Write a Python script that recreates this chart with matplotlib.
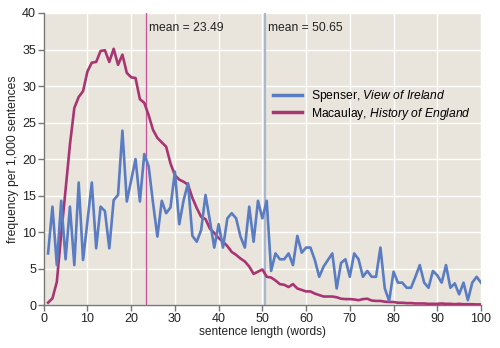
import numpy as np
import matplotlib
matplotlib.use('Agg')
import matplotlib.pyplot as plt

# sentence length (words)
lengths = list(range(1, 101))

# Spenser, View of Ireland (frequency per 1,000 sentences)
spenser = [7.1, 13.5, 5.5, 14.3, 6.3, 13.5, 5.5, 16.8, 6.2, 11.5,
           16.8, 7.8, 13.5, 12.9, 7.8, 14.4, 15.1, 23.9, 14.2, 17.1,
           20.0, 14.2, 20.7, 19.0, 14.0, 9.4, 14.3, 12.6, 13.4, 18.3,
           11.1, 14.4, 16.7, 9.5, 8.7, 10.3, 15.1, 11.6, 7.9, 11.1,
           7.9, 11.9, 12.6, 11.9, 9.4, 7.9, 13.5, 8.7, 14.3, 11.9,
           14.3, 4.7, 7.1, 6.3, 6.3, 7.1, 5.5, 9.5, 7.2, 7.9,
           7.9, 6.2, 3.9, 5.3, 6.2, 7.1, 2.3, 5.8, 6.3, 3.9,
           7.1, 6.3, 3.9, 4.7, 3.9, 3.9, 7.9, 2.3, 0.6, 4.6,
           3.1, 3.1, 2.4, 2.4, 3.9, 5.5, 3.1, 2.4, 4.7, 4.1,
           3.1, 5.5, 2.4, 3.0, 1.5, 3.1, 0.7, 3.1, 3.9, 3.1]

# Macaulay, History of England
macaulay = [0.36, 0.95, 3.2, 9.7, 15.8, 22.0, 27.0, 28.5, 29.3, 32.0,
            33.2, 33.3, 34.8, 34.9, 33.3, 35.1, 32.9, 34.3, 31.8, 31.2,
            31.1, 28.2, 27.7, 26.0, 24.0, 22.9, 22.3, 21.7, 19.4, 17.8,
            17.2, 16.9, 16.5, 14.7, 13.3, 12.1, 11.8, 10.5, 9.9, 9.2,
            8.7, 8.1, 7.3, 6.9, 6.4, 6.0, 5.3, 4.3, 4.6, 4.9,
            3.9, 3.8, 3.4, 2.9, 2.8, 2.5, 2.9, 2.3, 2.1, 1.9,
            1.9, 1.6, 1.4, 1.2, 1.2, 1.2, 1.1, 0.9, 0.85, 0.85,
            0.8, 0.7, 0.85, 0.9, 0.65, 0.6, 0.6, 0.5, 0.45, 0.45,
            0.35, 0.35, 0.3, 0.3, 0.25, 0.25, 0.25, 0.2, 0.2, 0.2,
            0.25, 0.2, 0.2, 0.15, 0.2, 0.15, 0.15, 0.15, 0.12, 0.12]

mean_macaulay = 23.49
mean_spenser = 50.65

blue = '#5a7cc2'
magenta = '#a83572'

plt.rcParams['font.family'] = ['Liberation Sans', 'DejaVu Sans']
plt.rcParams['mathtext.fontset'] = 'custom'
plt.rcParams['mathtext.rm'] = 'Liberation Sans'
plt.rcParams['mathtext.it'] = 'Liberation Sans:italic'

fig = plt.figure(figsize=(5, 3.48), dpi=100)
ax = fig.add_axes([0.0874, 0.1227, 0.8746, 0.84])
ax.set_facecolor('#e9e5dc')

# mean lines
ax.axvline(mean_macaulay, color='#c8559a', lw=0.9, zorder=2)
ax.axvline(mean_spenser, color='#a9b6cc', lw=1.6, zorder=2)
ax.text(mean_macaulay + 0.6, 37.9, 'mean = 23.49', fontsize=8.7, va='center', color='#222222')
ax.text(mean_spenser + 0.6, 37.9, 'mean = 50.65', fontsize=8.7, va='center', color='#222222')

ax.plot(lengths, spenser, color=blue, lw=1.9, zorder=4,
        label='Spenser, $\\it{View\\ of\\ Ireland}$')
ax.plot(lengths, macaulay, color=magenta, lw=1.9, zorder=3,
        label='Macaulay, $\\it{History\\ of\\ England}$')

ax.set_xlim(0, 100)
ax.set_ylim(0, 40)
ax.set_xticks(range(0, 101, 10))
ax.set_yticks(range(0, 41, 5))
ax.grid(True, color='white', lw=1.0)
ax.set_axisbelow(True)

for s in ['top', 'right']:
    ax.spines[s].set_visible(False)
for s in ['left', 'bottom']:
    ax.spines[s].set_color('#777777')
    ax.spines[s].set_linewidth(1.0)
ax.tick_params(axis='both', colors='#777777', labelcolor='#222222', labelsize=9,
               length=4, width=1.0, direction='out', pad=1.5)

ax.set_xlabel('sentence length (words)', fontsize=8.6, color='#222222', labelpad=1)
ax.set_ylabel('frequency per 1,000 sentences', fontsize=8.7, color='#222222', labelpad=2)

leg = ax.legend(loc='upper left', bbox_to_anchor=(0.5, 0.78), frameon=False,
                fontsize=8.7, handlelength=2.4, handletextpad=0.7, labelspacing=0.12)
for line in leg.get_lines():
    line.set_linewidth(2.5)

plt.savefig('out.png', dpi=100)
